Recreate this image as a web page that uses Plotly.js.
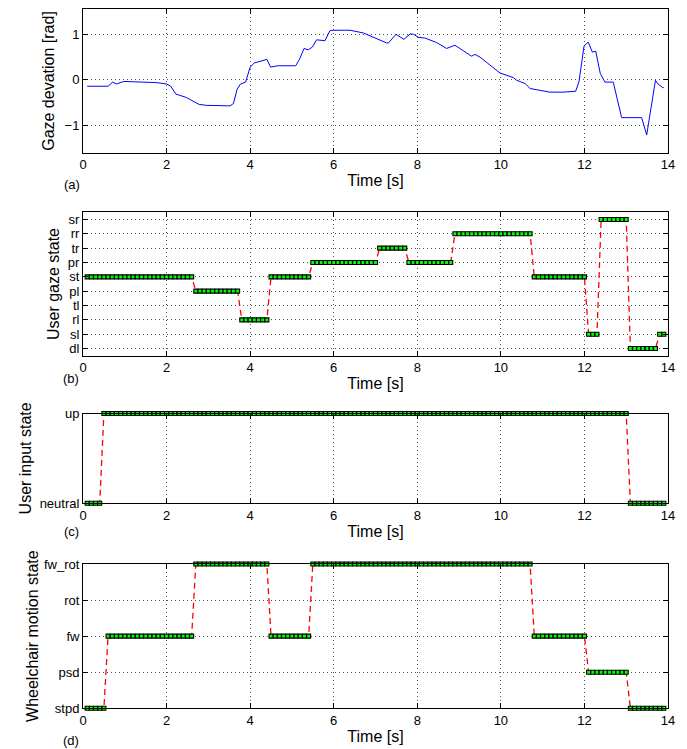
<!DOCTYPE html>
<html>
<head>
<meta charset="utf-8">
<script src="https://cdn.plot.ly/plotly-3.0.1.min.js"></script>
<style>html,body{margin:0;padding:0;background:#fff;}#chart{width:687px;height:749px;}</style>
</head>
<body>
<div id="chart"></div>
<script>
// ---------- data ----------
// (a) gaze deviation [rad]
const gazeTime = [0.1,0.6,0.71,0.8,0.98,1.4,1.75,2.0,2.1,2.22,2.48,2.78,2.96,3.44,3.52,3.6,3.69,3.77,3.89,4.0,4.1,4.4,4.49,4.67,5.09,5.18,5.29,5.39,5.49,5.59,5.79,5.91,5.99,6.39,6.71,7.27,7.31,7.49,7.68,7.83,7.91,8.04,8.18,8.46,8.7,8.9,9.3,9.38,9.5,9.98,10.3,10.38,10.58,10.7,10.93,11.17,11.49,11.79,11.87,11.99,12.09,12.19,12.27,12.38,12.49,12.69,12.89,13.37,13.49,13.7,13.76,13.87,13.9];
const gazeDeviation = [-0.14,-0.14,-0.05,-0.09,-0.035,-0.04,-0.06,-0.09,-0.14,-0.31,-0.39,-0.54,-0.56,-0.57,-0.57,-0.52,-0.2,-0.09,-0.05,0.28,0.37,0.45,0.28,0.31,0.31,0.45,0.69,0.66,0.72,0.88,0.86,1.08,1.09,1.09,1.03,0.81,0.81,1.0,0.89,1.01,1.0,0.93,0.92,0.82,0.69,0.76,0.52,0.56,0.5,0.15,0.05,-0.01,-0.08,-0.19,-0.23,-0.27,-0.27,-0.25,-0.04,0.74,0.83,0.61,0.63,0.14,-0.05,-0.05,-0.83,-0.83,-1.21,-0.01,-0.09,-0.17,-0.17];

// sampling period of the state signals [s]
const sampleStep = 0.1;

// (b) user gaze state: categories (bottom to top) and runs
const gazeCategories = ['dl','sl','rl','tl','pl','st','pr','tr','rr','sr'];
const gazeRunState = ['st','pl','rl','st','pr','tr','pr','rr','st','sl','sr','dl','sl'];
const gazeRunStart = [0.1,2.7,3.8,4.5,5.5,7.1,7.8,8.9,10.8,12.1,12.4,13.1,13.8];
const gazeRunEnd   = [2.6,3.7,4.4,5.4,7.0,7.7,8.8,10.7,12.0,12.3,13.0,13.7,13.9];

// (c) user input state
const inputCategories = ['neutral','up'];
const inputRunState = ['neutral','up','neutral'];
const inputRunStart = [0.1,0.5,13.1];
const inputRunEnd   = [0.4,13.0,13.9];

// (d) wheelchair motion state
const motionCategories = ['stpd','psd','fw','rot','fw_rot'];
const motionRunState = ['stpd','fw','fw_rot','fw','fw_rot','fw','psd','stpd'];
const motionRunStart = [0.1,0.6,2.7,4.5,5.5,10.8,12.1,13.1];
const motionRunEnd   = [0.5,2.6,4.4,5.4,10.7,12.0,13.0,13.9];

const xTicks = [0,2,4,6,8,10,12,14];

// ---------- build sampled series from runs ----------
function expand(states, starts, ends, cats) {
  const x = [], y = [];
  for (let i = 0; i < states.length; i++) {
    const k0 = Math.round(starts[i] / sampleStep), k1 = Math.round(ends[i] / sampleStep);
    for (let k = k0; k <= k1; k++) {
      x.push(+(k * sampleStep).toFixed(2));
      y.push(cats.indexOf(states[i]));
    }
  }
  return {x, y};
}
const gz = expand(gazeRunState, gazeRunStart, gazeRunEnd, gazeCategories);
const inp = expand(inputRunState, inputRunStart, inputRunEnd, inputCategories);
const mo = expand(motionRunState, motionRunStart, motionRunEnd, motionCategories);

const FONT = 'Liberation Sans, Arial, Helvetica, sans-serif';
const stateStyle = {
  mode: 'lines+markers',
  line: {color: '#ff0000', width: 1.3, dash: '6px,4px'},
  marker: {symbol: 'square', size: 4, color: '#00ff00', line: {color: '#000', width: 1.1}},
  cliponaxis: false,
  hoverinfo: 'x+y'
};

const traces = [
  {x: gazeTime, y: gazeDeviation, mode: 'lines', line: {color: '#0000ff', width: 1}, xaxis: 'x', yaxis: 'y'},
  Object.assign({x: gz.x, y: gz.y, xaxis: 'x2', yaxis: 'y2'}, stateStyle),
  Object.assign({x: inp.x, y: inp.y, xaxis: 'x3', yaxis: 'y3'}, stateStyle),
  Object.assign({x: mo.x, y: mo.y, xaxis: 'x4', yaxis: 'y4'}, stateStyle)
];

const W = 687, H = 749;
const xDom = [83 / W, 668 / W];
function yDom(top, bottom) { return [1 - bottom / H, 1 - top / H]; }

const grid = {showgrid: true, gridcolor: '#555', griddash: '1px,3px', gridwidth: 1};
function xAxis(anchor, standoff) {
  return Object.assign({
    domain: xDom, anchor: anchor, range: [0, 14], tickvals: xTicks,
    ticks: 'inside', ticklen: 5, tickcolor: '#000', mirror: 'ticks',
    showline: true, linecolor: '#000', linewidth: 1, zeroline: false,
    tickfont: {size: 13, color: '#000'},
    title: {text: 'Time [s]', font: {size: 16, color: '#000'}, standoff: standoff}
  }, grid);
}
function yAxis(anchor, dom, extra, title, standoff) {
  return Object.assign({
    domain: dom, anchor: anchor,
    ticks: 'inside', ticklen: 5, tickcolor: '#000', mirror: 'ticks',
    showline: true, linecolor: '#000', linewidth: 1, zeroline: false,
    tickfont: {size: 13, color: '#000'},
    title: {text: title, font: {size: 16, color: '#000'}, standoff: standoff}
  }, grid, extra);
}

const idx = a => a.map((_, i) => i);
const layout = {
  width: W, height: H,
  margin: {l: 0, r: 0, t: 0, b: 0},
  paper_bgcolor: '#fff', plot_bgcolor: '#fff',
  font: {family: FONT, color: '#000'},
  showlegend: false,
  xaxis: xAxis('y', 3),
  yaxis: yAxis('x', yDom(9.3, 152.7), {range: [-1.6, 1.55], tickvals: [-1, 0, 1]}, 'Gaze devation [rad]', 5),
  xaxis2: xAxis('y2', 3),
  yaxis2: yAxis('x2', yDom(212.3, 355.7), {range: [-0.5, 9.5], tickvals: idx(gazeCategories), ticktext: gazeCategories}, 'User gaze state', 4),
  xaxis3: xAxis('y3', 3),
  yaxis3: yAxis('x3', yDom(413.5, 503.3), {range: [0, 1], tickvals: idx(inputCategories), ticktext: inputCategories, showgrid: false}, 'User input state', 4),
  xaxis4: xAxis('y4', 3),
  yaxis4: yAxis('x4', yDom(564, 708.3), {range: [0, 4], tickvals: idx(motionCategories), ticktext: motionCategories}, 'Wheelchair motion state', 1),
  annotations: [
    {text: '(a)', x: 72 / W, y: 1 - 184 / H},
    {text: '(b)', x: 71 / W, y: 1 - 379 / H},
    {text: '(c)', x: 71 / W, y: 1 - 531 / H},
    {text: '(d)', x: 71 / W, y: 1 - 740 / H}
  ].map(a => Object.assign({xref: 'paper', yref: 'paper', showarrow: false, xanchor: 'center', yanchor: 'middle', font: {size: 13, color: '#000'}}, a))
};

Plotly.newPlot('chart', traces, layout, {displayModeBar: false, staticPlot: true});
</script>
</body>
</html>
